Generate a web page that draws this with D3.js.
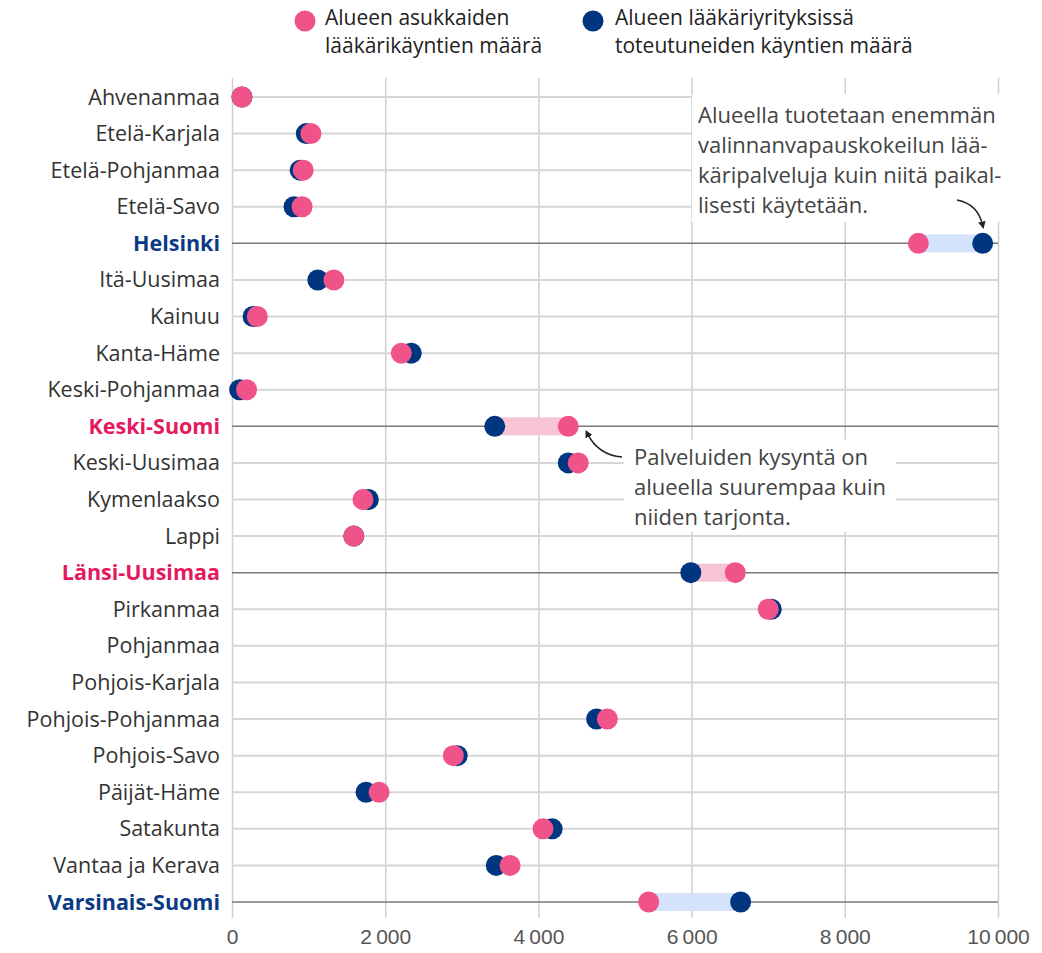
<!DOCTYPE html>
<html>
<head>
<meta charset="utf-8">
<script src="https://cdn.jsdelivr.net/npm/d3@7"></script>
<style>
  body { margin: 0; background: #fff; }
  svg { font-family: "Open Sans", "Noto Sans", sans-serif; }
</style>
</head>
<body>
<script>
// regions, top to bottom
var regions = ["Ahvenanmaa", "Etelä-Karjala", "Etelä-Pohjanmaa", "Etelä-Savo", "Helsinki",
  "Itä-Uusimaa", "Kainuu", "Kanta-Häme", "Keski-Pohjanmaa", "Keski-Suomi", "Keski-Uusimaa",
  "Kymenlaakso", "Lappi", "Länsi-Uusimaa", "Pirkanmaa", "Pohjanmaa", "Pohjois-Karjala",
  "Pohjois-Pohjanmaa", "Pohjois-Savo", "Päijät-Häme", "Satakunta", "Vantaa ja Kerava",
  "Varsinais-Suomi"];
// residents' doctor visits (pink)
var residentVisits = [130, 1030, 930, 915, 8960, 1330, 330, 2210, 190, 4390, 4520,
  1710, 1590, 6570, 7000, null, null, 4900, 2890, 1920, 4060, 3630, 5440];
// visits produced by the region's firms (navy)
var providedVisits = [130, 970, 890, 810, 9800, 1120, 275, 2340, 100, 3430, 4390,
  1780, 1590, 5990, 7040, null, null, 4760, 2940, 1750, 4180, 3450, 6640];
var highlighted = { "Helsinki": "navy", "Keski-Suomi": "pink", "Länsi-Uusimaa": "pink", "Varsinais-Suomi": "navy" };
var xTicks = [0, 2000, 4000, 6000, 8000, 10000];
var legendLabels = [["Alueen asukkaiden", "lääkärikäyntien määrä"],
  ["Alueen lääkäriyrityksissä", "toteutuneiden käyntien määrä"]];

var PINK = "#f0528a", NAVY = "#003580";
var width = 1042, height = 953;

var svg = d3.select("body").append("svg")
  .attr("width", width).attr("height", height);

var x = d3.scaleLinear().domain([0, 10000]).range([232, 998]);
var y = d3.scalePoint().domain(regions).range([97, 902]);

var fmt = d3.formatLocale({ decimal: ",", thousands: "\u2009", grouping: [3], currency: ["", "€"] }).format(",");

// vertical gridlines + axis labels
var xAxis = svg.append("g")
  .attr("transform", "translate(0,918)")
  .call(d3.axisBottom(x).tickValues(xTicks).tickFormat(fmt).tickSize(-840).tickPadding(11));
xAxis.select(".domain").remove();
xAxis.selectAll("line").attr("stroke", "#cfcfcf").attr("stroke-width", 1.5);
xAxis.selectAll("text").attr("fill", "#555").style("font-size", "21px");

// row lines
svg.append("g").selectAll("line")
  .data(regions).enter().append("line")
  .attr("x1", x(0)).attr("x2", x(10000))
  .attr("y1", d => y(d)).attr("y2", d => y(d))
  .attr("stroke", d => highlighted[d] ? "#7a7a7a" : "#d6d6d6")
  .attr("stroke-width", d => highlighted[d] ? 1.5 : 2);

// row labels
svg.append("g").selectAll("text")
  .data(regions).enter().append("text")
  .attr("x", 220).attr("y", d => y(d)).attr("dy", "0.35em")
  .attr("text-anchor", "end")
  .style("font-size", "21.5px")
  .style("font-weight", d => highlighted[d] ? "bold" : "normal")
  .attr("fill", d => highlighted[d] === "navy" ? "#0b3a85" : highlighted[d] === "pink" ? "#e5195e" : "#333")
  .text(d => d);

var rows = regions.map(function(r, i) {
  return { region: r, pink: residentVisits[i], navy: providedVisits[i] };
}).filter(d => d.pink !== null);

// difference bands for highlighted regions
svg.append("g").selectAll("rect")
  .data(rows.filter(d => highlighted[d.region])).enter().append("rect")
  .attr("x", d => x(Math.min(d.pink, d.navy)))
  .attr("width", d => Math.abs(x(d.pink) - x(d.navy)))
  .attr("y", d => y(d.region) - 9).attr("height", 18)
  .attr("fill", d => d.navy > d.pink ? "#d4e3fb" : "#f8c3d5");

// dots: navy under pink
svg.append("g").selectAll("circle")
  .data(rows).enter().append("circle")
  .attr("cx", d => x(d.navy)).attr("cy", d => y(d.region)).attr("r", 10.5)
  .attr("fill", NAVY);
svg.append("g").selectAll("circle")
  .data(rows).enter().append("circle")
  .attr("cx", d => x(d.pink)).attr("cy", d => y(d.region)).attr("r", 10.5)
  .attr("fill", PINK);

// legend
var legend = svg.append("g");
[[PINK, 305, 325], [NAVY, 593, 615]].forEach(function(l, i) {
  legend.append("circle").attr("cx", l[1]).attr("cy", 21).attr("r", 10.5).attr("fill", l[0]);
  legendLabels[i].forEach(function(t, j) {
    legend.append("text").attr("x", l[2]).attr("y", 25 + j * 28)
      .style("font-size", "21px").attr("fill", "#222").text(t);
  });
});

// annotations
svg.append("defs").append("marker")
  .attr("id", "arr").attr("viewBox", "0 0 10 10").attr("refX", 5).attr("refY", 5)
  .attr("markerWidth", 5).attr("markerHeight", 5).attr("orient", "auto-start-reverse")
  .append("path").attr("d", "M0,0 L10,5 L0,10 z").attr("fill", "#222");

function note(lines, bx, by, bw, bh, tx, ty) {
  var g = svg.append("g");
  g.append("rect").attr("x", bx).attr("y", by).attr("width", bw).attr("height", bh).attr("fill", "#fff");
  lines.forEach(function(t, i) {
    g.append("text").attr("x", tx).attr("y", ty + i * 30)
      .style("font-size", "22px").attr("fill", "#444").text(t);
  });
}
note(["Alueella tuotetaan enemmän", "valinnanvapauskokeilun lää-", "käripalveluja kuin niitä paikal-", "lisesti käytetään."],
  692, 94, 350, 128, 698, 123);
note(["Palveluiden kysyntä on", "alueella suurempaa kuin", "niiden tarjonta."],
  624, 440, 272, 92, 634, 465);

var hel = rows.find(d => d.region === "Helsinki");
svg.append("path")
  .attr("d", "M957,200 Q978,204 " + x(hel.navy) + "," + (y(hel.region) - 18))
  .attr("fill", "none").attr("stroke", "#222").attr("stroke-width", 1.5)
  .attr("marker-end", "url(#arr)");

var ks = rows.find(d => d.region === "Keski-Suomi");
svg.append("path")
  .attr("d", "M622,457 Q598,455 " + (x(ks.pink) + 19) + "," + (y(ks.region) + 7))
  .attr("fill", "none").attr("stroke", "#222").attr("stroke-width", 1.5)
  .attr("marker-end", "url(#arr)");
</script>
</body>
</html>
